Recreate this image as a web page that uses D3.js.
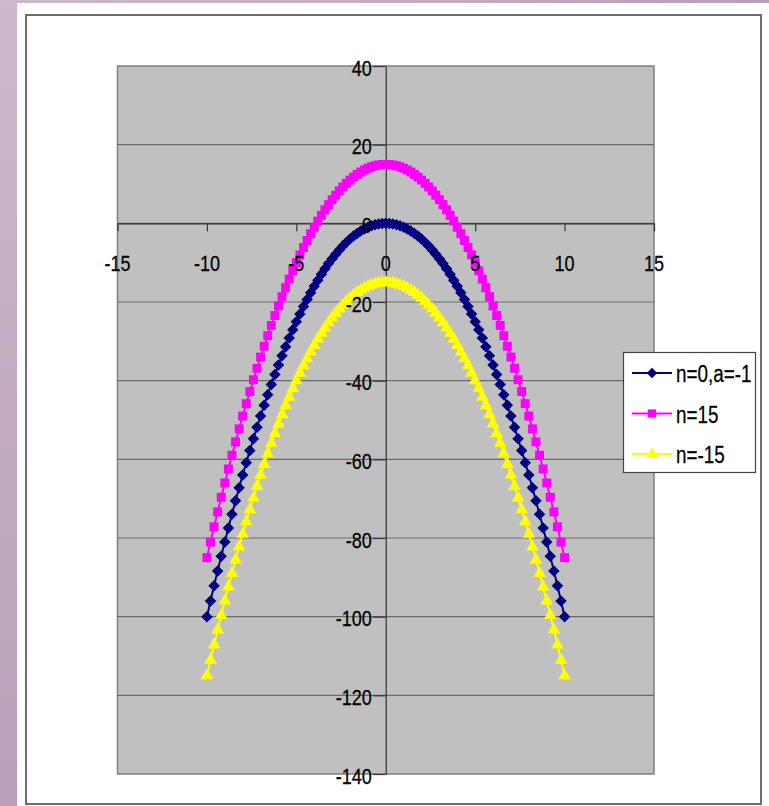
<!DOCTYPE html>
<html>
<head>
<meta charset="utf-8">
<script src="https://cdn.jsdelivr.net/npm/d3@7"></script>
<style>
  html, body { margin: 0; padding: 0; background: #fff; }
  svg { display: block; }
  text { font-family: "Liberation Sans", Arial, sans-serif; fill: #000; stroke: #000; stroke-width: 0.25; }
</style>
</head>
<body>
<svg id="chart" width="769" height="806"></svg>
<script>
// x values shared by all three parabolas
const xValues = [
  -10,-9.8,-9.6,-9.4,-9.2,-9,-8.8,-8.6,-8.4,-8.2,-8,-7.8,-7.6,-7.4,-7.2,-7,-6.8,-6.6,-6.4,-6.2,
  -6,-5.8,-5.6,-5.4,-5.2,-5,-4.8,-4.6,-4.4,-4.2,-4,-3.8,-3.6,-3.4,-3.2,-3,-2.8,-2.6,-2.4,-2.2,
  -2,-1.8,-1.6,-1.4,-1.2,-1,-0.8,-0.6,-0.4,-0.2,0,
  0.2,0.4,0.6,0.8,1,1.2,1.4,1.6,1.8,2,2.2,2.4,2.6,2.8,3,3.2,3.4,3.6,3.8,4,
  4.2,4.4,4.6,4.8,5,5.2,5.4,5.6,5.8,6,6.2,6.4,6.6,6.8,7,7.2,7.4,7.6,7.8,8,
  8.2,8.4,8.6,8.8,9,9.2,9.4,9.6,9.8,10
];

// n=0, a=-1
const seriesN0 = [
  -100,-96.04,-92.16,-88.36,-84.64,-81,-77.44,-73.96,-70.56,-67.24,-64,-60.84,-57.76,-54.76,-51.84,-49,-46.24,-43.56,-40.96,-38.44,
  -36,-33.64,-31.36,-29.16,-27.04,-25,-23.04,-21.16,-19.36,-17.64,-16,-14.44,-12.96,-11.56,-10.24,-9,-7.84,-6.76,-5.76,-4.84,
  -4,-3.24,-2.56,-1.96,-1.44,-1,-0.64,-0.36,-0.16,-0.04,0,
  -0.04,-0.16,-0.36,-0.64,-1,-1.44,-1.96,-2.56,-3.24,-4,-4.84,-5.76,-6.76,-7.84,-9,-10.24,-11.56,-12.96,-14.44,-16,
  -17.64,-19.36,-21.16,-23.04,-25,-27.04,-29.16,-31.36,-33.64,-36,-38.44,-40.96,-43.56,-46.24,-49,-51.84,-54.76,-57.76,-60.84,-64,
  -67.24,-70.56,-73.96,-77.44,-81,-84.64,-88.36,-92.16,-96.04,-100
];

// n=15
const seriesN15 = [
  -85,-81.04,-77.16,-73.36,-69.64,-66,-62.44,-58.96,-55.56,-52.24,-49,-45.84,-42.76,-39.76,-36.84,-34,-31.24,-28.56,-25.96,-23.44,
  -21,-18.64,-16.36,-14.16,-12.04,-10,-8.04,-6.16,-4.36,-2.64,-1,0.56,2.04,3.44,4.76,6,7.16,8.24,9.24,10.16,
  11,11.76,12.44,13.04,13.56,14,14.36,14.64,14.84,14.96,15,
  14.96,14.84,14.64,14.36,14,13.56,13.04,12.44,11.76,11,10.16,9.24,8.24,7.16,6,4.76,3.44,2.04,0.56,-1,
  -2.64,-4.36,-6.16,-8.04,-10,-12.04,-14.16,-16.36,-18.64,-21,-23.44,-25.96,-28.56,-31.24,-34,-36.84,-39.76,-42.76,-45.84,-49,
  -52.24,-55.56,-58.96,-62.44,-66,-69.64,-73.36,-77.16,-81.04,-85
];

// n=-15
const seriesNm15 = [
  -115,-111.04,-107.16,-103.36,-99.64,-96,-92.44,-88.96,-85.56,-82.24,-79,-75.84,-72.76,-69.76,-66.84,-64,-61.24,-58.56,-55.96,-53.44,
  -51,-48.64,-46.36,-44.16,-42.04,-40,-38.04,-36.16,-34.36,-32.64,-31,-29.44,-27.96,-26.56,-25.24,-24,-22.84,-21.76,-20.76,-19.84,
  -19,-18.24,-17.56,-16.96,-16.44,-16,-15.64,-15.36,-15.16,-15.04,-15,
  -15.04,-15.16,-15.36,-15.64,-16,-16.44,-16.96,-17.56,-18.24,-19,-19.84,-20.76,-21.76,-22.84,-24,-25.24,-26.56,-27.96,-29.44,-31,
  -32.64,-34.36,-36.16,-38.04,-40,-42.04,-44.16,-46.36,-48.64,-51,-53.44,-55.96,-58.56,-61.24,-64,-66.84,-69.76,-72.76,-75.84,-79,
  -82.24,-85.56,-88.96,-92.44,-96,-99.64,-103.36,-107.16,-111.04,-115
];

const seriesNames = ["n=0,a=-1", "n=15", "n=-15"];
const xTicks = [-15, -10, -5, 0, 5, 10, 15];
const yTicks = [-140, -120, -100, -80, -60, -40, -20, 0, 20, 40];

const svg = d3.select("#chart");
const W = 769, H = 806;
const NARROW = 0.82; // horizontal squeeze for the condensed label face

// slide background: purple strip on the left and top
const defs = svg.append("defs");
const gradV = defs.append("linearGradient").attr("id", "bgV").attr("x1", 0).attr("y1", 0).attr("x2", 0).attr("y2", 1);
gradV.append("stop").attr("offset", 0).attr("stop-color", "#cdb9cb");
gradV.append("stop").attr("offset", 1).attr("stop-color", "#b9a0b8");
const gradH = defs.append("linearGradient").attr("id", "bgH").attr("x1", 0).attr("y1", 0).attr("x2", 1).attr("y2", 0);
gradH.append("stop").attr("offset", 0).attr("stop-color", "#cdb9cb");
gradH.append("stop").attr("offset", 1).attr("stop-color", "#b8a0b8");
svg.append("rect").attr("x", 0).attr("y", 0).attr("width", 17).attr("height", H).attr("fill", "url(#bgV)");
svg.append("rect").attr("x", 0).attr("y", 0).attr("width", W).attr("height", 3).attr("fill", "url(#bgH)");

// chart frame
svg.append("rect")
  .attr("x", 26).attr("y", 15).attr("width", 735).attr("height", 789)
  .attr("fill", "#fff").attr("stroke", "#6e6e6e").attr("stroke-width", 2);

const x = d3.scaleLinear().domain([-15, 15]).range([117.5, 654]);
const y = d3.scaleLinear().domain([-140, 40]).range([774, 66]);

// plot area
svg.append("rect")
  .attr("x", x(-15)).attr("y", y(40))
  .attr("width", x(15) - x(-15)).attr("height", y(-140) - y(40))
  .attr("fill", "#c0c0c0").attr("stroke", "#7f7f7f").attr("stroke-width", 1.5);

// horizontal gridlines
svg.append("g").selectAll("line")
  .data(yTicks.filter(d => d > -140 && d < 40))
  .join("line")
  .attr("x1", x(-15)).attr("x2", x(15))
  .attr("y1", d => y(d)).attr("y2", d => y(d))
  .attr("stroke", "#6a6a6a").attr("stroke-width", 1.2);

// axes crossing at the origin
const xAxis = svg.append("g")
  .attr("transform", `translate(0,${y(0)})`)
  .call(d3.axisBottom(x).tickValues(xTicks).tickSize(8).tickSizeOuter(0));
const yAxis = svg.append("g")
  .attr("transform", `translate(${x(0)},0)`)
  .call(d3.axisLeft(y).tickValues(yTicks).tickSize(13).tickSizeOuter(0));
[xAxis, yAxis].forEach(g => {
  g.select(".domain").attr("stroke", "#333").attr("stroke-width", 1.2);
  g.selectAll(".tick line").attr("stroke", "#333").attr("stroke-width", 1.2);
  g.selectAll(".tick text").remove();
});

// marker shapes: diamond is a square turned 45 degrees
const series = [
  { name: seriesNames[0], values: seriesN0, color: "#000080", symbol: d3.symbolSquare, size: 66, rotate: 45 },
  { name: seriesNames[1], values: seriesN15, color: "#ff00ff", symbol: d3.symbolSquare, size: 80, rotate: 0 },
  { name: seriesNames[2], values: seriesNm15, color: "#ffff00", symbol: d3.symbolTriangle, size: 70, rotate: 0 }
];

const line = d3.line().x(d => x(d[0])).y(d => y(d[1]));

series.forEach(s => {
  const pts = xValues.map((v, i) => [v, s.values[i]]);
  const g = svg.append("g");
  g.append("path").datum(pts).attr("d", line)
    .attr("fill", "none").attr("stroke", s.color).attr("stroke-width", 2);
  g.selectAll("path.m").data(pts).join("path").attr("class", "m")
    .attr("transform", d => `translate(${x(d[0])},${y(d[1])}) rotate(${s.rotate})`)
    .attr("d", d3.symbol().type(s.symbol).size(s.size))
    .attr("fill", s.color);
});

// text placed at (px,py) and squeezed horizontally
function label(parent, px, py, str, size, anchor) {
  parent.append("g")
    .attr("transform", `translate(${px},${py}) scale(${NARROW},1)`)
    .append("text")
    .attr("text-anchor", anchor).attr("dominant-baseline", "central")
    .attr("font-size", size)
    .text(str);
}

// tick labels
const xLabels = svg.append("g");
xTicks.forEach(d => label(xLabels, x(d), y(0) + 40, d, 22, "middle"));
const yLabels = svg.append("g");
yTicks.forEach(d => label(yLabels, x(0) - 14, y(d) + 2, d, 22, "end"));

// legend
const legend = svg.append("g");
legend.append("rect")
  .attr("x", 623.5).attr("y", 352.5).attr("width", 132).attr("height", 120)
  .attr("fill", "#fff").attr("stroke", "#444").attr("stroke-width", 1.2);
const legendY = d3.scalePoint().domain(seriesNames).range([373, 454]);
series.forEach(s => {
  const cy = legendY(s.name);
  legend.append("line").attr("x1", 632).attr("x2", 672).attr("y1", cy).attr("y2", cy)
    .attr("stroke", s.color).attr("stroke-width", 2);
  legend.append("path").attr("transform", `translate(652,${cy}) rotate(${s.rotate})`)
    .attr("d", d3.symbol().type(s.symbol).size(s.size * 0.85)).attr("fill", s.color);
  label(legend, 676, cy + 1, s.name, 23, "start");
});
</script>
</body>
</html>
